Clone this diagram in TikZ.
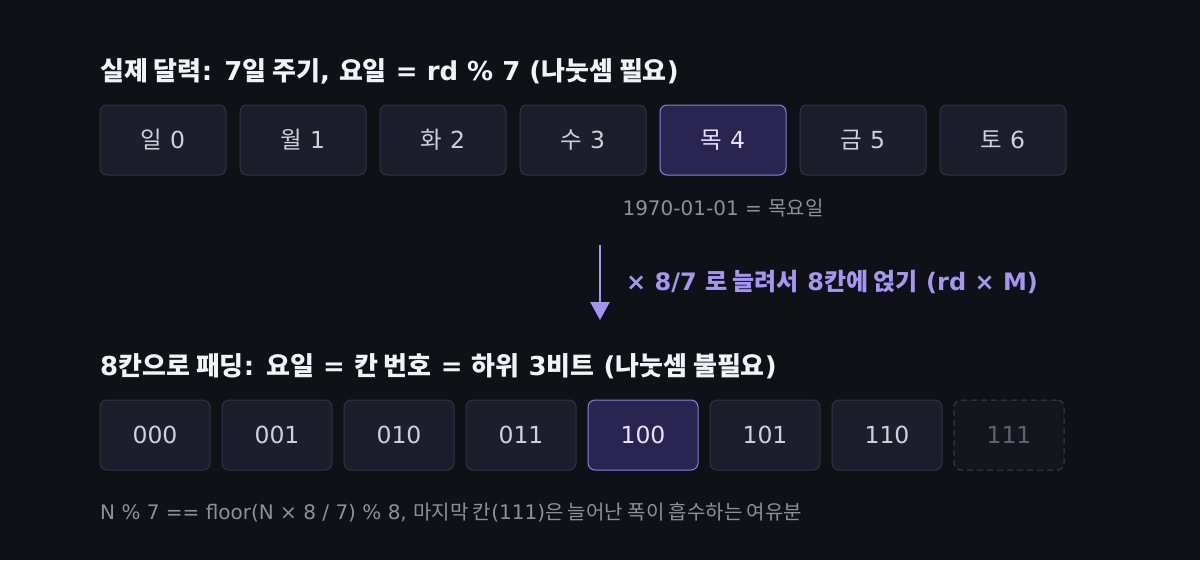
\documentclass[tikz,border=0pt]{standalone}
\usepackage{fontspec}
\setmainfont{DejaVu Sans}
\newfontfamily\kr{Noto Sans CJK KR}
\newcommand\K[1]{{\kr #1}}
\usetikzlibrary{arrows.meta}
\definecolor{bg}{HTML}{0F1117}
\definecolor{boxfill}{HTML}{1C1F2B}
\definecolor{boxline}{HTML}{2F3344}
\definecolor{hifill}{HTML}{2A2450}
\definecolor{hiline}{HTML}{8E7FD6}
\definecolor{boxtext}{HTML}{CDD1DC}
\definecolor{hitext}{HTML}{E6E2FF}
\definecolor{titletext}{HTML}{F2F3F6}
\definecolor{subtext}{HTML}{8B909C}
\definecolor{accent}{HTML}{A596F2}
\definecolor{dimfill}{HTML}{14161E}
\definecolor{dimline}{HTML}{3A3E4E}
\definecolor{dimtext}{HTML}{5E6272}
\tikzset{
  daybox/.style={draw=boxline, fill=boxfill, line width=1pt, rounded corners=7pt,
    minimum width=126pt, minimum height=70pt, inner sep=0pt, text=boxtext,
    font=\fontsize{23.5}{28}\selectfont},
  bitbox/.style={daybox, minimum width=110pt},
  hibox/.style={fill=hifill, draw=hiline, text=hitext},
  dimbox/.style={fill=dimfill, draw=dimline, dashed, dash pattern=on 6pt off 4pt, text=dimtext},
  title/.style={anchor=west, inner sep=0pt, text=titletext, font=\fontsize{26}{30}\selectfont\bfseries},
  note/.style={inner sep=0pt, text=subtext, font=\fontsize{20}{24}\selectfont},
  arrowlabel/.style={anchor=west, inner sep=0pt, text=accent, font=\fontsize{24}{28}\selectfont\bfseries},
  flow/.style={draw=accent, line width=2.5pt, -{Triangle[width=19pt,length=18pt]}}
}
\begin{document}
\begin{tikzpicture}[x=1pt,y=-1pt]
\path[fill=bg] (0,0) rectangle (1200,560);
\node[title] (t1) at (100,71) {\K{실제 달력}: 7\K{일 주기}, \K{요일} = rd \% 7 (\K{나눗셈 필요})};
\node[daybox] (d0) at (163,140) {\K{일} 0};
\node[daybox] (d1) at (303,140) {\K{월} 1};
\node[daybox] (d2) at (443,140) {\K{화} 2};
\node[daybox] (d3) at (583,140) {\K{수} 3};
\node[daybox,hibox] (d4) at (723,140) {\K{목} 4};
\node[daybox] (d5) at (863,140) {\K{금} 5};
\node[daybox] (d6) at (1003,140) {\K{토} 6};
\node[note] (epoch) at (723,208) {1970-01-01 = \K{목요일}};
\coordinate (as) at (600,245);
\coordinate (ae) at (600,320);
\draw[flow] (as) -- (ae);
\node[arrowlabel] (al) at (626,282) {× 8/7 \K{로 늘려서} 8\K{칸에 얹기} (rd × M)};
\node[title] (t2) at (100,366) {8\K{칸으로 패딩}: \K{요일} = \K{칸 번호} = \K{하위} 3\K{비트} (\K{나눗셈 불필요})};
\node[bitbox] (b0) at (155,435) {000};
\node[bitbox] (b1) at (277,435) {001};
\node[bitbox] (b2) at (399,435) {010};
\node[bitbox] (b3) at (521,435) {011};
\node[bitbox,hibox] (b4) at (643,435) {100};
\node[bitbox] (b5) at (765,435) {101};
\node[bitbox] (b6) at (887,435) {110};
\node[bitbox,dimbox] (b7) at (1009,435) {111};
\node[note,anchor=west] (foot) at (100,512) {N \% 7 == floor(N × 8 / 7) \% 8, \K{마지막 칸}(111)\K{은 늘어난 폭이 흡수하는 여유분}};
\end{tikzpicture}
\end{document}
